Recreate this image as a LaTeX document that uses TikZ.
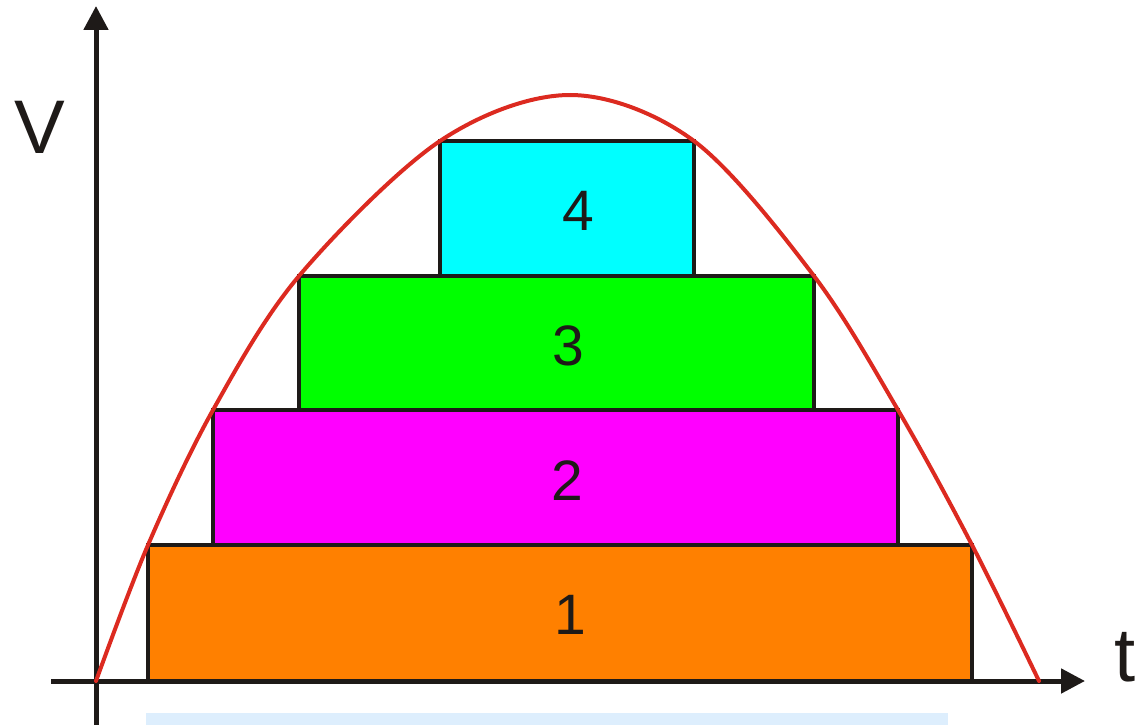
\documentclass[tikz,border=0pt]{standalone}
\usepackage{fontspec}
\setmainfont{Liberation Sans}
\usetikzlibrary{arrows.meta}
\definecolor{axisblack}{HTML}{1E1A18}
\definecolor{curvered}{HTML}{DC2A20}
\definecolor{boxorange}{HTML}{FF8000}
\definecolor{boxmagenta}{HTML}{FF00FF}
\definecolor{boxgreen}{HTML}{00FF00}
\definecolor{boxcyan}{HTML}{00FFFF}
\definecolor{barblue}{HTML}{DDEEFD}
\begin{document}
\begin{tikzpicture}[x=1pt,y=-1pt,
  layer/.style={draw=axisblack, line width=4pt, inner sep=0pt, outer sep=0pt},
  numlabel/.style={text=axisblack, font=\fontsize{57}{60}\selectfont, inner sep=0pt},
  axislabel/.style={text=axisblack, font=\fontsize{76}{80}\selectfont, inner sep=0pt},
  axisline/.style={draw=axisblack, line width=5pt, -{Triangle[length=24pt,width=24pt]}}]
\useasboundingbox (0,0) rectangle (1143,725);
% light blue bar
\fill[barblue] (146,713) rectangle (948,725);
% layers
\node[layer, fill=boxorange, minimum width=824pt, minimum height=136pt] (r1) at (560,613) {};
\node[layer, fill=boxmagenta, minimum width=685pt, minimum height=135pt] (r2) at (555.5,477.5) {};
\node[layer, fill=boxgreen, minimum width=515pt, minimum height=134pt] (r3) at (556.5,343) {};
\node[layer, fill=boxcyan, minimum width=254pt, minimum height=135pt] (r4) at (567,208.5) {};
\node[numlabel] (l1) at (570,615) {1};
\node[numlabel] (l2) at (567,481) {2};
\node[numlabel] (l3) at (568,346) {3};
\node[numlabel] (l4) at (578,211) {4};
% axes
\coordinate (ybot) at (96,725);
\coordinate (ytop) at (96,6);
\coordinate (xleft) at (51,681);
\coordinate (xright) at (1085,681);
\draw[axisline] (ybot) -- (ytop);
\draw[axisline] (xleft) -- (xright);
\node[axislabel] (vlab) at (40,127) {V};
\node[axislabel] (tlab) at (1125,657) {t};
% curve
\draw[curvered, line width=4pt, line cap=round] plot[smooth, tension=0.55] coordinates
  {(96,681) (148,545) (213,410) (299,276) (440,141) (570,95) (694,141) (814,276) (898,410) (972,545) (1039,681)};
\end{tikzpicture}
\end{document}
